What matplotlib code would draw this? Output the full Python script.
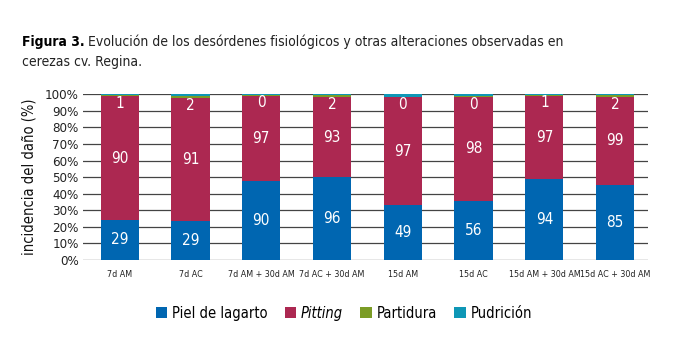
import matplotlib
matplotlib.use('Agg')
import matplotlib.pyplot as plt
import numpy as np

# data (labels are the shown values, pudricion)
categories = ['7d AM', '7d AC', '7d AM + 30d AM', '7d AC + 30d AM',
              '15d AM', '15d AC', '15d AM + 30d AM', '15d AC + 30d AM']
piel = [29, 29, 90, 96, 49, 56, 94, 85]
pitting = [90, 91, 97, 93, 97, 98, 97, 99]
partidura = [1, 2, 0.4, 2, 0.3, 0.4, 1, 2]
pudricion = [0.3, 1, 1, 1, 2, 2, 0.5, 1]

series_names = ['Piel de lagarto', 'Pitting', 'Partidura', 'Pudrición']
colors = ['#0066b1', '#ac2851', '#7b9c26', '#0e97b6']

plt.rcParams['font.family'] = ['DejaVu Sans']
plt.rcParams['font.stretch'] = 'condensed'

data = np.array([piel, pitting, partidura, pudricion], dtype=float)
pct = data / data.sum(axis=0) * 100

fig = plt.figure(figsize=(6.74, 3.48), dpi=100)
ax = fig.add_axes([0.123, 0.253, 0.838, 0.476])

x = np.arange(len(categories))
bottom = np.zeros(len(categories))
bars = []
for i in range(4):
    b = ax.bar(x, pct[i], 0.54, bottom=bottom, color=colors[i], zorder=3,
               label=series_names[i])
    bars.append(b)
    bottom = bottom + pct[i]

# white value labels
for j in range(len(categories)):
    ax.text(x[j], pct[0][j] / 2, str(int(round(data[0][j]))), ha='center', va='center',
            color='white', fontsize=11, zorder=4)
    ax.text(x[j], pct[0][j] + pct[1][j] / 2, str(int(round(data[1][j]))), ha='center',
            va='center', color='white', fontsize=11, zorder=4)
    ax.text(x[j], pct[0][j] + pct[1][j] + 0.2, str(int(round(data[2][j]))), ha='center',
            va='top', color='white', fontsize=11, zorder=4)

ax.set_xlim(-0.52, 7.46)
ax.set_ylim(0, 100)
ax.set_yticks(np.arange(0, 101, 10))
ax.set_yticklabels([f'{v}%' for v in range(0, 101, 10)], fontsize=9.5, color='#222222')
ax.set_xticks(x)
ax.set_xticklabels(categories, fontsize=6.4, color='#222222')
ax.tick_params(axis='both', length=0, pad=3)
ax.tick_params(axis='x', pad=7)
ax.grid(axis='y', color='#444444', linewidth=0.9, zorder=0)
for s in ax.spines.values():
    s.set_visible(False)
ax.set_ylabel('incidencia del daño (%)', fontsize=10.5, labelpad=6, color='#111111')

# title: bold part + regular part
renderer = fig.canvas.get_renderer()
t1 = fig.text(0.033, 0.868, 'Figura 3.', fontsize=10, fontweight='bold', va='baseline')
bb = t1.get_window_extent(renderer)
fig.text((bb.x1 + 3) / fig.bbox.width, 0.868,
         'Evolución de los desórdenes fisiológicos y otras alteraciones observadas en',
         fontsize=10, va='baseline', color='#222222')
fig.text(0.033, 0.81, 'cerezas cv. Regina.', fontsize=10, va='baseline', color='#222222')

leg = fig.legend(handles=bars, labels=series_names, loc='center', bbox_to_anchor=(0.51, 0.1),
                 ncol=4, frameon=False, fontsize=10.5, handlelength=0.8, handleheight=0.8,
                 handletextpad=0.3, columnspacing=1.2)
leg.get_texts()[1].set_fontstyle('italic')

fig.savefig('out.png', dpi=100)
